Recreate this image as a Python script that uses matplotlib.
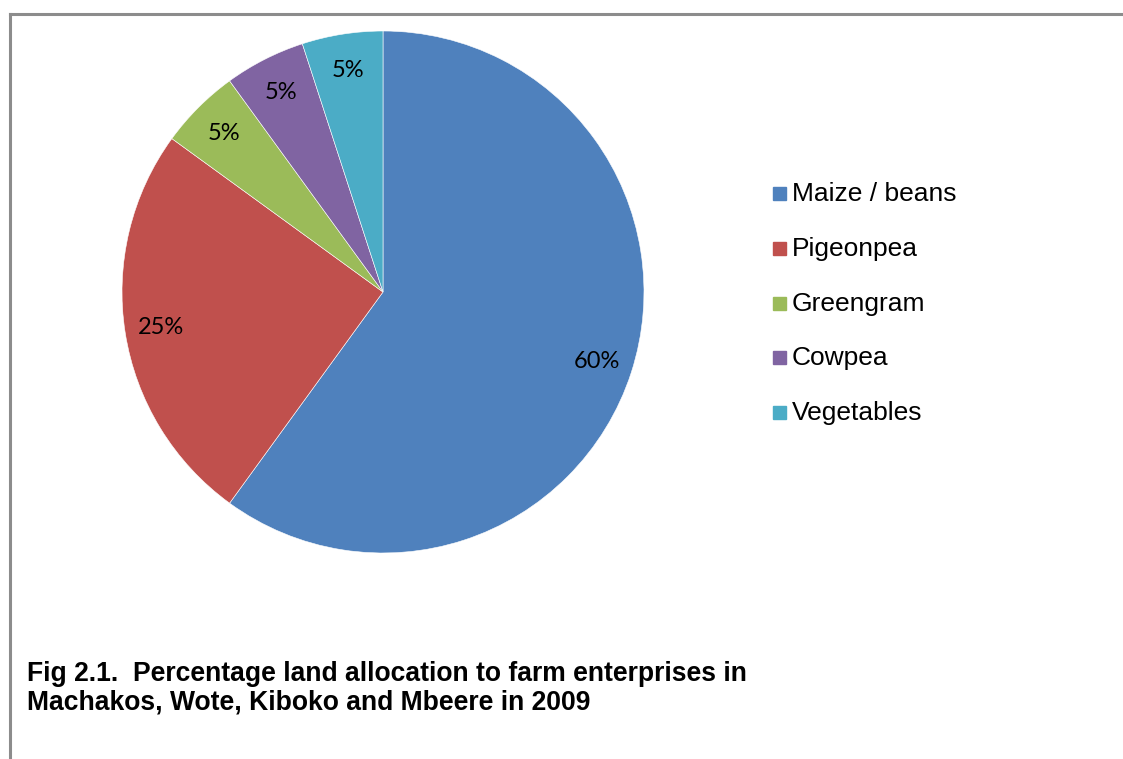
import matplotlib
matplotlib.use("Agg")
import matplotlib.pyplot as plt
from matplotlib.lines import Line2D

categories = ["Maize / beans", "Pigeonpea", "Greengram", "Cowpea", "Vegetables"]
values = [60, 25, 5, 5, 5]
colors = ["#4F81BD", "#C0504D", "#9BBB59", "#8064A2", "#4BACC6"]
caption_lines = ["Fig 2.1.  Percentage land allocation to farm enterprises in",
                 "Machakos, Wote, Kiboko and Mbeere in 2009"]

W, H = 1123, 759
fig = plt.figure(figsize=(W / 100, H / 100), dpi=100)
fig.patch.set_facecolor("white")

# frame lines (top and left)
fig.add_artist(Line2D([10 / W, 1.0], [1 - 14 / H, 1 - 14 / H], color="#8C8C8C", lw=2.2))
fig.add_artist(Line2D([10 / W, 10 / W], [0, 1 - 14 / H], color="#8C8C8C", lw=2.2))

cx, cy, r = 383, 292, 261
ax = fig.add_axes([(cx - r) / W, (H - cy - r) / H, 2 * r / W, 2 * r / H])
wedges, texts, autotexts = ax.pie(
    values, colors=colors, startangle=90, counterclock=False,
    autopct=lambda p: f"{p:.0f}%", pctdistance=0.86, radius=1.0,
    wedgeprops=dict(edgecolor="white", linewidth=0.4),
    textprops=dict(fontsize=17, family="Lato", color="black"))
ax.set_xlim(-1, 1)
ax.set_ylim(-1, 1)
ax.axis("off")

# legend
ys = [194, 249, 304, 358, 413]
for cat, col, y in zip(categories, colors, ys):
    fig.patches.append(plt.Rectangle((773 / W, 1 - (y + 6) / H), 13 / W, 13 / H,
                                     transform=fig.transFigure, color=col))
    fig.text(792 / W, 1 - y / H, cat, fontsize=19, family="Liberation Sans",
             va="center", ha="left")

for line, yb in zip(caption_lines, [681, 709]):
    fig.text(27 / W, 1 - yb / H, line, fontsize=19.1, family="Liberation Sans",
             fontweight="bold", va="baseline", ha="left")

fig.savefig("out.png", dpi=100)
